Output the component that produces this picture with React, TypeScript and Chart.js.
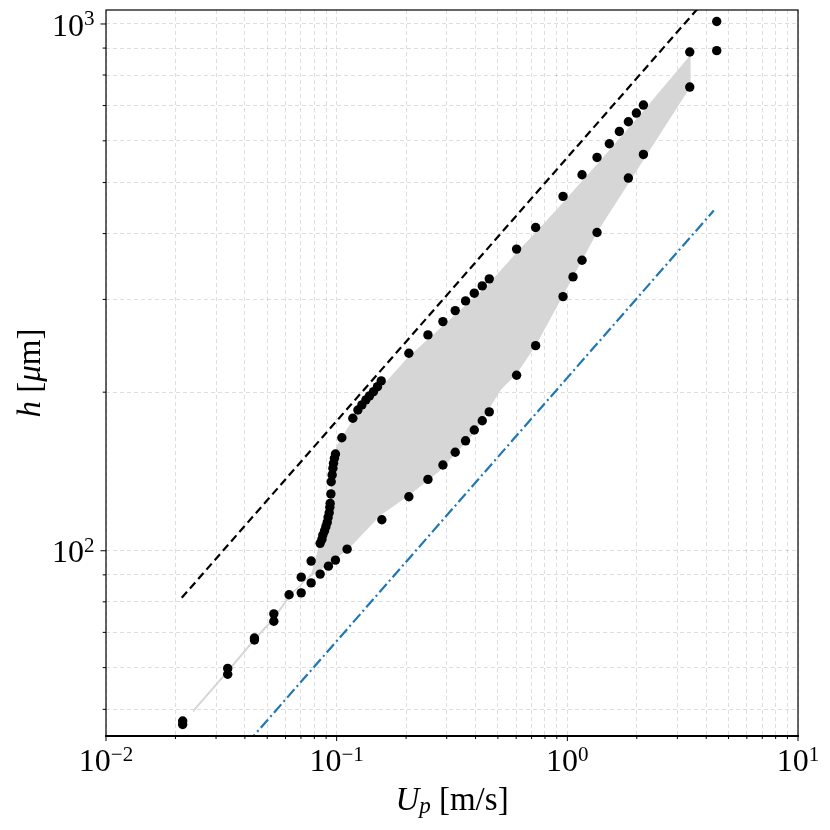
import { useEffect, useRef } from "react"
import { Chart, registerables } from "chart.js"

Chart.register(...registerables)

// measured points, upper branch
const upperU = [
  0.0215, 0.0337, 0.044, 0.0534, 0.0622, 0.0702, 0.0775, 0.0848, 0.0863, 0.0871,
  0.0886, 0.0898, 0.091, 0.0918, 0.0928, 0.0934, 0.0937, 0.0944, 0.0947, 0.0956,
  0.0963, 0.0969, 0.0978, 0.0988, 0.1053, 0.1175, 0.1236, 0.1286, 0.1339, 0.1388,
  0.1445, 0.1503, 0.156, 0.2056, 0.2487, 0.2888, 0.3266, 0.3621, 0.395, 0.4278,
  0.4587, 0.6026, 0.7287, 0.9579, 1.158, 1.345, 1.521, 1.681, 1.839, 1.992,
  2.137, 3.394, 4.443,
]
const upperH = [
  47.5, 59.8, 68.3, 75.9, 82.5, 89.1, 95.6, 103.3, 105.1, 107.1,
  109.1, 111.1, 113.2, 115.7, 118.1, 120.9, 123.0, 128.2, 135.2, 139.3,
  143.4, 146.6, 149.8, 152.6, 163.9, 178.5, 185.0, 189.2, 193.4, 196.8,
  200.5, 204.9, 210.1, 237.1, 256.9, 272.3, 285.7, 298.1, 308.3, 318.3,
  328.2, 373.8, 410.9, 470.6, 517.3, 558, 592.5, 625.2, 652.3, 677.5,
  701.6, 884.9, 1011,
]

// measured points, lower branch
const lowerU = [
  0.0215, 0.0337, 0.044, 0.0534, 0.0702, 0.0775, 0.0848, 0.0921, 0.0988, 0.111,
  0.157, 0.2056, 0.2487, 0.2888, 0.3266, 0.362, 0.395, 0.4278, 0.4587, 0.6026,
  0.7287, 0.9579, 1.0585, 1.158, 1.345, 1.839, 2.137, 3.394, 4.443,
]
const lowerH = [
  46.8, 58.3, 67.7, 73.5, 83.2, 86.9, 90.3, 93.5, 96.0, 100.7,
  114.5, 126.6, 136.6, 145.5, 153.8, 161.7, 169.5, 176.5, 183.5, 215.4,
  245.1, 303.7, 331, 356.1, 401.9, 509.9, 565.4, 759, 889.9,
]

// outline of the grey band (upper edge left->right, then lower edge back)
const bandU = [
  0.02384, 0.0335, 0.04386, 0.05357, 0.06283, 0.0694, 0.0781, 0.0848, 0.0891, 0.0937,
  0.0969, 0.1002, 0.1107, 0.1224, 0.1596, 0.2056, 0.2487, 0.4483, 0.6026, 0.7287,
  0.9579, 1.158, 1.346, 2.137, 3.394, 3.394, 1.346, 0.956, 0.7287, 0.6026,
  0.5121, 0.3923, 0.2812, 0.2056, 0.1544, 0.1145, 0.0985, 0.0848, 0.073, 0.06283,
  0.05357, 0.04386, 0.0335, 0.02384,
]
const bandH = [
  49.8, 59.1, 68.0, 74.8, 82.8, 85.7, 90.6, 103.3, 114.4, 124.8,
  144.4, 157.6, 169.6, 181.1, 206.4, 233.3, 251.4, 317.4, 367.3, 400.9,
  457.1, 502.3, 540.4, 682.3, 867.9, 759, 403.6, 306.0, 245.9, 217.3,
  202.0, 167.1, 142.3, 127.6, 116.9, 101.8, 96.4, 91.9, 88.0, 82.0,
  74.2, 67.4, 58.6, 49.4,
]

const dashedU = [0.0213, 4.443]
const dashedH = [81.4, 1176]
const dashDotU = [0.0213, 4.313]
const dashDotH = [31.1, 442.4]

const xTicks = [
  0.01, 0.02, 0.03, 0.04, 0.05, 0.06, 0.07, 0.08, 0.09,
  0.1, 0.2, 0.3, 0.4, 0.5, 0.6, 0.7, 0.8, 0.9,
  1, 2, 3, 4, 5, 6, 7, 8, 9, 10,
]
const yTicks = [50, 60, 70, 80, 90, 100, 200, 300, 400, 500, 600, 700, 800, 900, 1000]
const xMajor = [0.01, 0.1, 1, 10]
const xExp = ["\u22122", "\u22121", "0", "1"]
const yMajor = [100, 1000]
const yExp = ["2", "3"]

const pts = (us: number[], hs: number[]) => us.map((u, i) => ({ x: u, y: hs[i] }))

const SERIF = '"Liberation Serif", "DejaVu Serif", serif'

const decorations = {
  id: "decorations",
  afterDraw(chart: any) {
    const { ctx, chartArea: a } = chart
    const xs = chart.scales.x
    const ys = chart.scales.y
    ctx.save()

    // frame
    ctx.strokeStyle = "#000"
    ctx.lineWidth = 1.2
    ctx.strokeRect(a.left, a.top, a.right - a.left, a.bottom - a.top)
    ctx.lineWidth = 1.8
    ctx.beginPath()
    ctx.moveTo(a.left - 1, a.bottom)
    ctx.lineTo(a.right + 1, a.bottom)
    ctx.stroke()

    // tick marks
    ctx.lineWidth = 1
    ctx.beginPath()
    xTicks.forEach((v) => {
      const p = xs.getPixelForValue(v)
      const len = xMajor.includes(v) ? 5 : 3
      ctx.moveTo(p, a.bottom)
      ctx.lineTo(p, a.bottom + len)
    })
    yTicks.forEach((v) => {
      const p = ys.getPixelForValue(v)
      const len = yMajor.includes(v) ? 5.5 : 3.3
      ctx.moveTo(a.left, p)
      ctx.lineTo(a.left - len, p)
    })
    ctx.stroke()

    ctx.fillStyle = "#000"
    ctx.textBaseline = "alphabetic"
    const big = "32px " + SERIF
    const small = "21px " + SERIF

    // x tick labels
    xMajor.forEach((v, i) => {
      const p = xs.getPixelForValue(v)
      ctx.font = big
      const w1 = ctx.measureText("10").width
      ctx.font = small
      const w2 = ctx.measureText(xExp[i]).width
      const start = p - (w1 + w2) / 2
      ctx.textAlign = "left"
      ctx.font = big
      ctx.fillText("10", start, a.bottom + 35)
      ctx.font = small
      ctx.fillText(xExp[i], start + w1, a.bottom + 24.5)
    })

    // y tick labels
    yMajor.forEach((v, i) => {
      const p = ys.getPixelForValue(v)
      const right = a.left - 11.5
      ctx.font = small
      const w2 = ctx.measureText(yExp[i]).width
      ctx.textAlign = "right"
      ctx.fillText(yExp[i], right, p + 1)
      ctx.font = big
      ctx.fillText("10", right - w2, p + 11.7)
    })

    // x title: U_p [m/s]
    const parts: [string, string, number][] = [
      ["U", "italic 33px " + SERIF, 0],
      ["p", "italic 23px " + SERIF, 3],
      [" [m/s]", "33px " + SERIF, 0],
    ]
    ctx.textAlign = "left"
    let total = 0
    parts.forEach(([t, f]) => {
      ctx.font = f
      total += ctx.measureText(t).width
    })
    let cx = (a.left + a.right) / 2 - total / 2
    parts.forEach(([t, f, dy]) => {
      ctx.font = f
      ctx.fillText(t, cx, 810 + dy)
      cx += ctx.measureText(t).width
    })

    // y title: h [μm]
    const yparts: [string, string][] = [
      ["h", "italic 33px " + SERIF],
      [" [", "33px " + SERIF],
      ["\u03bc", "italic 33px " + SERIF],
      ["m]", "33px " + SERIF],
    ]
    let ytotal = 0
    yparts.forEach(([t, f]) => {
      ctx.font = f
      ytotal += ctx.measureText(t).width
    })
    ctx.translate(40, (a.top + a.bottom) / 2)
    ctx.rotate(-Math.PI / 2)
    let cy = -ytotal / 2
    yparts.forEach(([t, f]) => {
      ctx.font = f
      ctx.fillText(t, cy, 0)
      cy += ctx.measureText(t).width
    })

    ctx.restore()
  },
}

export default function App() {
  const chartRef = useRef<HTMLCanvasElement>(null)
  const chartInstance = useRef<Chart | null>(null)

  useEffect(() => {
    if (!chartRef.current) return
    if (chartInstance.current) chartInstance.current.destroy()

    const ctx = chartRef.current.getContext("2d")
    if (!ctx) return

    const gridColor = "rgba(0, 0, 0, 0.13)"

    chartInstance.current = new Chart(ctx, {
      type: "scatter",
      data: {
        datasets: [
          {
            label: "upper",
            data: pts(upperU, upperH),
            backgroundColor: "#000",
            borderWidth: 0,
            pointRadius: 4.7,
            order: 1,
          },
          {
            label: "lower",
            data: pts(lowerU, lowerH),
            backgroundColor: "#000",
            borderWidth: 0,
            pointRadius: 4.7,
            order: 1,
          },
          {
            label: "dashed",
            data: pts(dashedU, dashedH),
            showLine: true,
            borderColor: "#000",
            borderWidth: 2.2,
            borderDash: [8, 4.5],
            pointRadius: 0,
            order: 2,
          },
          {
            label: "dashdot",
            data: pts(dashDotU, dashDotH),
            showLine: true,
            borderColor: "#1f77b4",
            borderWidth: 2.2,
            borderDash: [11, 3.5, 2, 3.5],
            pointRadius: 0,
            order: 2,
          },
          {
            label: "band",
            data: pts(bandU, bandH),
            showLine: true,
            borderColor: "rgb(214, 214, 214)",
            borderWidth: 1,
            backgroundColor: "rgb(214, 214, 214)",
            fill: "shape",
            pointRadius: 0,
            tension: 0,
            order: 5,
          },
        ],
      } as any,
      options: {
        animation: false,
        responsive: true,
        maintainAspectRatio: false,
        layout: { padding: { top: 10, right: 32, left: 0, bottom: 0 } },
        plugins: {
          legend: { display: false },
          tooltip: { enabled: false },
        },
        scales: {
          x: {
            type: "logarithmic",
            min: 0.01,
            max: 10,
            afterBuildTicks: (s: any) => {
              s.ticks = xTicks.map((v) => ({ value: v }))
            },
            afterFit: (s: any) => {
              s.height = 94
            },
            ticks: { display: false },
            grid: { color: gridColor, drawTicks: false, lineWidth: 1 },
            border: { display: false, dash: [4, 3] },
          },
          y: {
            type: "logarithmic",
            min: 44.5,
            max: 1063,
            afterBuildTicks: (s: any) => {
              s.ticks = yTicks.map((v) => ({ value: v }))
            },
            afterFit: (s: any) => {
              s.width = 106
            },
            ticks: { display: false },
            grid: { color: gridColor, drawTicks: false, lineWidth: 1 },
            border: { display: false, dash: [4, 3] },
          },
        },
      } as any,
      plugins: [decorations],
    })

    return () => {
      if (chartInstance.current) {
        chartInstance.current.destroy()
        chartInstance.current = null
      }
    }
  }, [])

  return (
    <div style={{ position: "fixed", left: 0, top: 0, width: 830, height: 830, background: "#fff" }}>
      <canvas ref={chartRef} />
    </div>
  )
}
